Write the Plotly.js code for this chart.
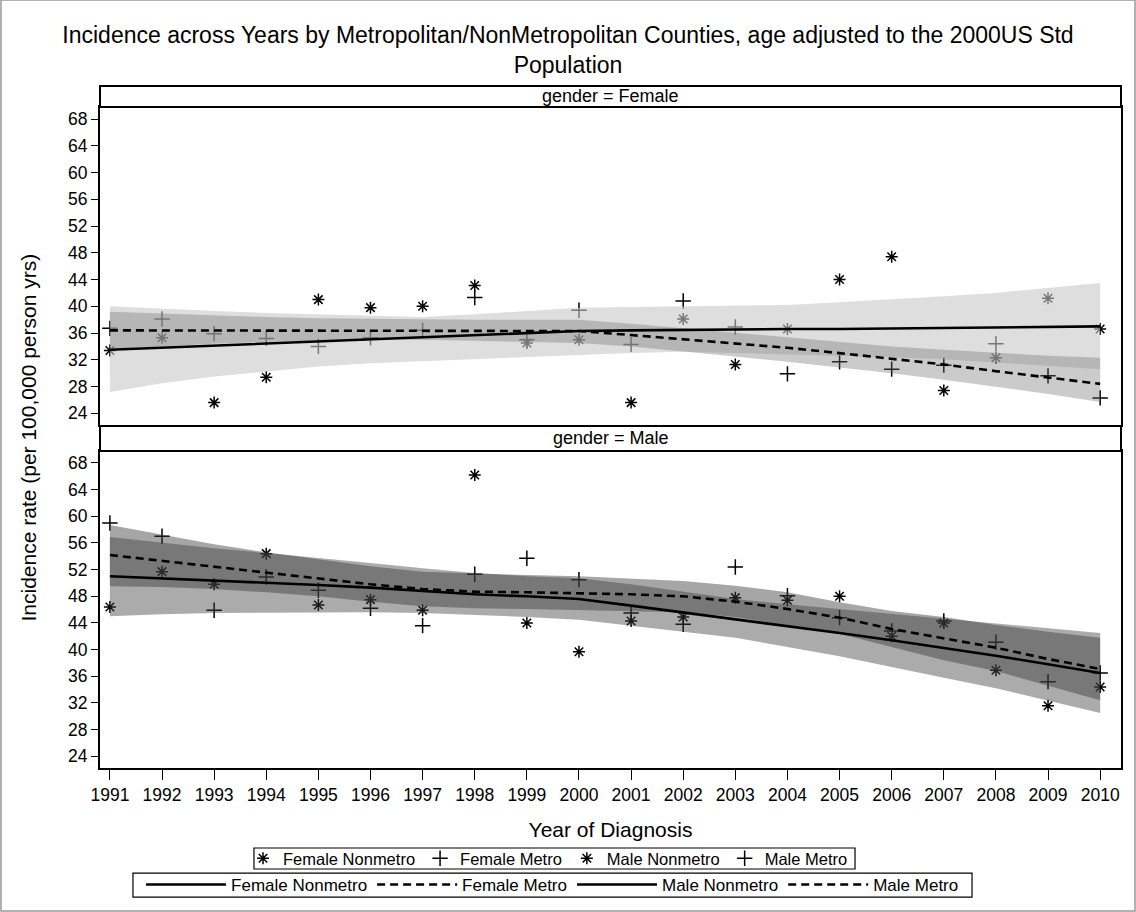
<!DOCTYPE html>
<html><head><meta charset="utf-8">
<script src="https://cdn.plot.ly/plotly-3.0.1.min.js"></script>
<style>html,body{margin:0;padding:0;background:#fff}#chart{width:1136px;height:912px}</style>
</head><body><div id="chart"></div>
<script>
const years = [1991,1992,1993,1994,1995,1996,1997,1998,1999,2000,2001,2002,2003,2004,2005,2006,2007,2008,2009,2010];
const yearLabels = ['1991','1992','1993','1994','1995','1996','1997','1998','1999','2000','2001','2002','2003','2004','2005','2006','2007','2008','2009','2010'];
const rateTicks = [24,28,32,36,40,44,48,52,56,60,64,68];

// Observed rates (markers)
const femNonmetroRate = [33.4,35.3,25.6,29.4,41.0,39.8,40.0,43.1,34.5,35.0,25.6,38.1,31.3,36.6,44.0,47.4,27.4,32.3,41.2,36.6];
const femMetroRate    = [36.7,38.1,35.9,35.2,34.0,35.3,36.4,41.3,35.0,39.4,34.3,40.8,36.9,29.9,31.7,30.6,31.2,34.4,29.6,26.3];
const maleNonmetroRate = [46.4,51.7,49.8,54.4,46.7,47.5,45.9,66.2,44.0,39.7,44.3,44.9,47.8,47.4,48.0,42.0,44.0,36.9,31.6,34.4];
const maleMetroRate    = [59.0,57.0,45.9,50.9,48.9,46.2,43.6,51.3,53.7,50.5,45.5,43.8,52.4,48.1,44.8,42.8,44.3,41.1,35.2,36.5];

// Fitted curves
const femNonmetroFit = [33.5,33.8,34.1,34.4,34.7,35.0,35.3,35.7,36.0,36.3,36.4,36.5,36.5,36.6,36.6,36.7,36.8,36.8,36.9,37.0];
const femMetroFit    = [36.4,36.4,36.4,36.4,36.4,36.4,36.4,36.4,36.3,36.3,35.7,35.1,34.5,33.8,33.0,32.2,31.3,30.3,29.4,28.4];
const maleNonmetroFit = [51.0,50.7,50.4,50.1,49.7,49.3,48.8,48.3,48.0,47.6,46.6,45.6,44.5,43.5,42.5,41.4,40.3,39.1,37.8,36.5];
const maleMetroFit    = [54.2,53.3,52.5,51.6,50.7,49.8,49.1,48.7,48.6,48.5,48.3,48.0,47.2,46.1,44.8,43.1,41.7,40.3,38.6,37.1];

// Confidence bands
const femNonmetroUpper = [40.0,39.6,39.3,39.0,38.8,38.6,38.4,38.8,39.3,39.8,39.9,40.0,40.0,40.2,40.6,41.0,41.5,42.0,42.7,43.5];
const femNonmetroLower = [27.2,28.5,29.5,30.3,31.0,31.5,31.9,32.2,32.5,32.7,33.0,33.2,33.1,32.9,32.6,32.4,32.1,31.6,31.1,30.6];
const femMetroUpper = [39.2,38.9,38.6,38.4,38.2,38.1,38.0,38.0,38.0,38.0,37.4,36.7,36.0,35.3,34.6,34.0,33.5,33.0,32.6,32.3];
const femMetroLower = [33.6,34.0,34.4,34.7,34.9,35.0,35.0,34.9,34.7,34.5,34.0,33.3,32.5,31.7,30.9,30.0,29.0,28.0,26.9,25.7];
const maleNonmetroUpper = [56.9,56.0,55.2,54.5,53.8,53.0,52.2,51.5,51.0,50.7,49.8,48.7,47.6,46.8,46.1,45.4,44.7,44.0,43.2,42.5];
const maleNonmetroLower = [45.0,45.3,45.5,45.6,45.6,45.6,45.5,45.2,44.9,44.5,43.6,42.7,41.8,40.4,39.0,37.4,35.8,34.2,32.4,30.5];
const maleMetroUpper = [58.7,57.2,55.8,54.6,53.5,52.5,51.7,51.4,51.2,51.0,50.7,50.3,49.6,48.6,47.1,45.8,44.9,43.7,42.7,41.8];
const maleMetroLower = [49.5,49.4,49.1,48.6,48.0,47.2,46.5,46.2,46.1,46.0,45.8,45.6,44.9,43.6,42.4,40.4,38.4,36.8,34.6,32.4];

const starMarker = {symbol:'asterisk-open', size:10, color:'#000', line:{color:'#000', width:1.5}};
const plusMarker = {symbol:'cross-thin-open', size:11, color:'#000', line:{color:'#000', width:1.5}};

function markerTrace(y, name, marker, xa, ya){
  return {type:'scatter', mode:'markers', x:years, y:y, name:name, marker:marker, xaxis:xa, yaxis:ya, legend:'legend', hoverinfo:'skip'};
}
function bandTrace(up, lo, xa, ya, color){
  return {type:'scatter', mode:'lines', x:years.concat(years.slice().reverse()), y:up.concat(lo.slice().reverse()),
    fill:'toself', fillcolor:color, line:{width:0, color:'rgba(0,0,0,0)'}, xaxis:xa, yaxis:ya, showlegend:false, hoverinfo:'skip'};
}
function fitTrace(y, name, dash, xa, ya){
  return {type:'scatter', mode:'lines', x:years, y:y, name:name, line:{color:'#000', width:2.6, dash:dash},
    xaxis:xa, yaxis:ya, legend:'legend2', hoverinfo:'skip'};
}

const data = [
  markerTrace(femNonmetroRate, 'Female Nonmetro', starMarker, 'x2', 'y'),
  markerTrace(femMetroRate, 'Female Metro', plusMarker, 'x2', 'y'),
  markerTrace(maleNonmetroRate, 'Male Nonmetro', starMarker, 'x', 'y2'),
  markerTrace(maleMetroRate, 'Male Metro', plusMarker, 'x', 'y2'),
  bandTrace(femNonmetroUpper, femNonmetroLower, 'x2', 'y', 'rgba(200,200,200,0.6)'),
  bandTrace(femMetroUpper, femMetroLower, 'x2', 'y', 'rgba(110,110,110,0.36)'),
  bandTrace(maleNonmetroUpper, maleNonmetroLower, 'x', 'y2', 'rgba(60,60,60,0.43)'),
  bandTrace(maleMetroUpper, maleMetroLower, 'x', 'y2', 'rgba(60,60,60,0.46)'),
  fitTrace(femNonmetroFit, 'Female Nonmetro', 'solid', 'x2', 'y'),
  fitTrace(femMetroFit, 'Female Metro', '8px,5px', 'x2', 'y'),
  fitTrace(maleNonmetroFit, 'Male Nonmetro', 'solid', 'x', 'y2'),
  fitTrace(maleMetroFit, 'Male Metro', '8px,5px', 'x', 'y2')
];

const axisCommon = {showline:true, mirror:true, linecolor:'#000', linewidth:2, showgrid:false, zeroline:false};
const yCommon = Object.assign({}, axisCommon, {range:[22.25,69.8], tickvals:rateTicks, ticks:'outside', ticklen:7, tickwidth:1, tickcolor:'#000', tickfont:{size:17.5}});

const layout = {
  width:1136, height:912, paper_bgcolor:'#fff', plot_bgcolor:'#fff',
  margin:{l:100, r:15, t:107, b:144},
  font:{family:'"Liberation Sans", Arial, sans-serif', color:'#000', size:17},
  title:{text:'Incidence across Years by Metropolitan/NonMetropolitan Counties, age adjusted to the 2000US Std<br>Population',
    font:{size:23, color:'#000'}, x:0.5, xref:'container', xanchor:'center', y:0.953, yref:'container', yanchor:'top'},
  xaxis: Object.assign({}, axisCommon, {domain:[0,1], anchor:'y2', range:[1990.81,2010.4], tickvals:years, ticktext:yearLabels,
    ticks:'outside', ticklen:10, tickwidth:1, tickcolor:'#000', tickfont:{size:17.5},
    title:{text:'Year of Diagnosis', font:{size:21}, standoff:18}}),
  xaxis2: Object.assign({}, axisCommon, {domain:[0,1], anchor:'y', matches:'x', showticklabels:false, ticks:''}),
  yaxis: Object.assign({}, yCommon, {domain:[0.5189,1], anchor:'x2'}),
  yaxis2: Object.assign({}, yCommon, {domain:[0,0.4796], anchor:'x'}),
  showlegend:true,
  legend:{orientation:'h', xref:'container', yref:'container', x:0.4824, xanchor:'center', y:0.0587, yanchor:'middle',
    borderwidth:0, bgcolor:'rgba(0,0,0,0)', font:{size:16.5}, itemwidth:30, tracegroupgap:0},
  legend2:{orientation:'h', xref:'container', yref:'container', x:0.4864, xanchor:'center', y:0.0296, yanchor:'middle',
    borderwidth:0, bgcolor:'rgba(0,0,0,0)', font:{size:17}, itemwidth:80, tracegroupgap:0},
  shapes:[
    {type:'rect', xref:'paper', yref:'paper', x0:0, x1:1, y0:1.0, y1:1.0318, line:{color:'#000', width:2}, fillcolor:'#fff', layer:'above'},
    {type:'rect', xref:'paper', yref:'paper', x0:0, x1:1, y0:0.4796, y1:0.5174, line:{color:'#000', width:2}, fillcolor:'#fff', layer:'above'},
    {type:'rect', xref:'paper', yref:'paper', x0:-0.097, x1:1.0137, y0:-0.2163, y1:1.1619, line:{color:'#999', width:1.5}, layer:'below'},
    {type:'rect', xref:'paper', yref:'paper', x0:0.1508, x1:0.7395, y0:-0.1528, y1:-0.1210, line:{color:'#000', width:1.2}, layer:'below'},
    {type:'rect', xref:'paper', yref:'paper', x0:0.0323, x1:0.8541, y0:-0.1952, y1:-0.1589, line:{color:'#000', width:1.2}, layer:'below'}
  ],
  annotations:[
    {text:'gender = Female', xref:'paper', yref:'paper', x:0.5, y:1.0159, showarrow:false, font:{size:18}, xanchor:'center', yanchor:'middle'},
    {text:'gender = Male', xref:'paper', yref:'paper', x:0.5, y:0.4985, showarrow:false, font:{size:18}, xanchor:'center', yanchor:'middle'},
    {text:'Incidence rate (per 100,000 person yrs)', xref:'paper', yref:'paper', x:-0.0705, y:0.5, textangle:-90, showarrow:false, font:{size:21}, xanchor:'center', yanchor:'middle'}
  ]
};

Plotly.newPlot('chart', data, layout, {staticPlot:true, displayModeBar:false});
</script>
</body></html>
